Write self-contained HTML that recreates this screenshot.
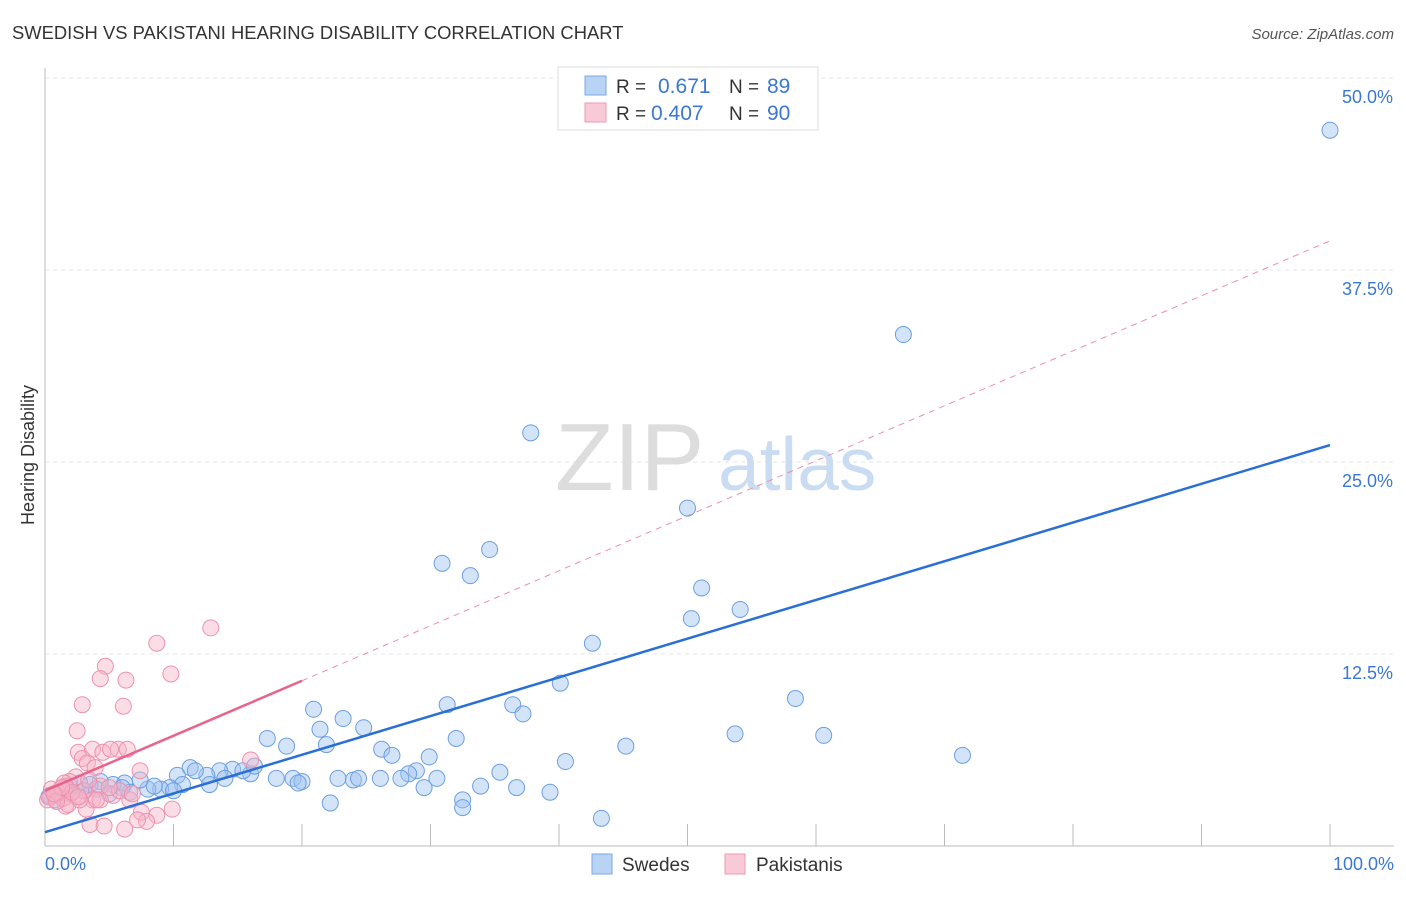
<!DOCTYPE html>
<html><head><meta charset="utf-8"><style>
body{margin:0;background:#fff;font-family:"Liberation Sans",sans-serif}
svg text{font-family:"Liberation Sans",sans-serif}
</style></head><body>
<svg id="chart" width="1406" height="892" viewBox="0 0 1406 892">
<text x="12" y="39" font-size="18.4" fill="#333">SWEDISH VS PAKISTANI HEARING DISABILITY CORRELATION CHART</text>
<text x="1394" y="39" font-size="15" fill="#555" font-style="italic" text-anchor="end">Source: ZipAtlas.com</text>
<text x="34" y="455" font-size="18" fill="#333" transform="rotate(-90 34 455)" text-anchor="middle">Hearing Disability</text>
<g id="grid"></g>
<g><text x="555" y="490" font-size="96" fill="#ddd" font-family="Liberation Serif,serif">ZIP</text><text x="718" y="490" font-size="75" fill="#c9dcf2">atlas</text></g>
<g id="lines"></g>
<g id="pts"></g>
<g>
<rect x="558" y="67" width="260" height="63" fill="#fff" stroke="#ddd"/>
<rect x="585" y="76" width="21" height="19" fill="#b8d3f3" stroke="#7aaae6"/>
<rect x="585" y="103" width="21" height="19" fill="#f8c9d6" stroke="#ee9ab3"/>
<text x="616" y="93" font-size="19" fill="#333">R = </text><text x="658" y="93" font-size="21" fill="#3a78d4">0.671</text>
<text x="729" y="93" font-size="19" fill="#333">N = </text><text x="767" y="93" font-size="21" fill="#3a78d4">89</text>
<text x="616" y="120" font-size="19" fill="#333">R = </text><text x="651" y="120" font-size="21" fill="#3a78d4">0.407</text>
<text x="729" y="120" font-size="19" fill="#333">N = </text><text x="767" y="120" font-size="21" fill="#3a78d4">90</text>
</g>
<g>
<rect x="592" y="854" width="20" height="20" fill="#b8d3f3" stroke="#7aaae6"/>
<text x="622" y="871" font-size="19" fill="#333">Swedes</text>
<rect x="725" y="854" width="20" height="20" fill="#f8c9d6" stroke="#ee9ab3"/>
<text x="756" y="871" font-size="19" fill="#333">Pakistanis</text>
</g>
</svg>
<script>
const yTicks=[12.5,25,37.5,50];
const yTickLabels=["12.5%","25.0%","37.5%","50.0%"];
const xTickLabels=["0.0%","100.0%"];
const swedesX=[100,66.8,37.8,50,34.6,30.9,33.1,51.1,54.1,50.3,42.6,40.1,58.4,31.3,20.9,36.4,23.2,37.2,24.8,21.4,17.3,32,53.7,60.6,18.8,21.9,45.2,71.4,26.2,27,29.9,40.5,28.9,28.3,35.4,27.7,22.8,24,24.4,26.1,30.5,19.3,20,19.7,18,16,14.6,15.4,13.6,16.3,12.6,11.3,11.7,10.3,12.8,10.7,9.7,9,8,7.4,6.2,5.3,4.3,3.5,2.7,1.9,1.2,0.4,0.8,22.2,32.5,32.5,29.5,33.9,36.7,39.3,43.3,6.6,1.6,3,5,8.5,10,14,2,4,6,0.3,1.2];
const swedesY=[46.6,33.3,26.9,22,19.3,18.4,17.6,16.8,15.4,14.8,13.2,10.6,9.6,9.2,8.9,9.2,8.3,8.6,7.7,7.6,7.0,7.0,7.3,7.2,6.5,6.6,6.5,5.9,6.3,5.9,5.8,5.5,4.9,4.7,4.8,4.4,4.4,4.3,4.4,4.4,4.4,4.4,4.2,4.1,4.4,4.7,5.0,4.9,4.9,5.2,4.6,5.1,4.9,4.6,4.0,4.0,3.8,3.7,3.7,4.3,4.1,4.0,4.2,4.0,4.1,3.9,3.6,3.3,3.0,2.8,3.0,2.5,3.8,3.9,3.8,3.5,1.8,3.5,3.8,3.6,3.4,3.9,3.6,4.4,3.4,3.7,3.8,3.2,3.5];
const pakX=[12.9,8.7,9.8,4.7,6.3,4.3,2.9,6.1,2.5,2.6,3.7,5.7,6.4,4.5,5.1,2.9,3.3,7.4,3.9,16,2.4,1.9,1.6,1.2,0.8,0.4,0.2,3.1,4.3,2.3,3.7,5.3,6.6,3.2,1.6,7.5,9.9,3.5,4.6,6.2,8.7,7.9,7.2,5.8,1.4,1.8,1,4.3,2.7,0.5,1.5,2.1,3.4,5,6.8,0.9,2.6,4,1.3,0.7];
const pakY=[14.2,13.2,11.2,11.7,10.8,10.9,9.2,9.1,7.5,6.1,6.3,6.3,6.3,6.1,6.3,5.7,5.4,4.9,5.1,5.6,4.5,4.2,3.9,3.6,3.3,3.2,3.0,3.6,3.9,3.3,3.0,3.3,3.0,2.4,2.6,2.2,2.4,1.4,1.3,1.1,2.0,1.6,1.7,3.6,3.1,2.7,3.5,3.0,3.0,3.7,4.1,3.5,4.3,3.8,3.4,2.9,3.2,3.0,3.8,3.4];
const blueTrend=[0.9,26.1];
const pinkTrend=[3.6,39.4];
const pinkSolidEnd=20;
const x0=45,x1=1330,yb=846,yt=78;
const X=v=>x0+(x1-x0)*v/100;
const Y=v=>yb-(yb-yt)*v/50;
const NS="http://www.w3.org/2000/svg";
function mk(t,a,p){const e=document.createElementNS(NS,t);for(const k in a)e.setAttribute(k,a[k]);p.appendChild(e);return e;}
const grid=document.getElementById('grid');
yTicks.forEach((t,i)=>{
 const l=mk('line',{x1:x0,x2:1394,y1:Y(t),y2:Y(t),stroke:'#e4e4e4','stroke-dasharray':'4,4'},grid);
 
 
 const tx=mk('text',{x:1393,y:Y(t)+25,'font-size':18,fill:'#3a78d4','text-anchor':'end'},grid);
 tx.textContent=yTickLabels[i];
 
 
});
const ax=mk('line',{x1:x0,x2:x0,y1:68,y2:yb,stroke:'#bbb'},grid);


const bx=mk('line',{x1:x0,x2:1394,y1:yb,y2:yb,stroke:'#bbb'},grid);


for(let i=1;i<=10;i++){const t=mk('line',{x1:X(i*10),x2:X(i*10),y1:yb,y2:yb-22,stroke:'#bbb'},grid);
 
 }
[[0,'start',x0],[100,'end',1394]].forEach((d,i)=>{const t=mk('text',{x:d[2],y:870,'font-size':18,fill:'#3a78d4','text-anchor':d[1]},grid);t.textContent=xTickLabels[i];
 
 });
const pts=document.getElementById('pts');
swedesX.forEach((v,i)=>{const c=mk('circle',{cx:X(v),cy:Y(swedesY[i]),r:8,fill:'rgba(160,196,240,0.45)',stroke:'#6c9fe0','stroke-width':1},pts);
 
 });
pakX.forEach((v,i)=>{const c=mk('circle',{cx:X(v),cy:Y(pakY[i]),r:8,fill:'rgba(246,180,200,0.45)',stroke:'#ec92ae','stroke-width':1},pts);
 
 });
const lines=document.getElementById('lines');
const pr=v=>pinkTrend[0]+(pinkTrend[1]-pinkTrend[0])*v/100;
const pd=mk('line',{x1:X(pinkSolidEnd),y1:Y(pr(pinkSolidEnd)),x2:X(100),y2:Y(pinkTrend[1]),stroke:'#ec8fab','stroke-dasharray':'6,5','stroke-width':1},lines);


const bl=mk('line',{x1:X(0),y1:Y(blueTrend[0]),x2:X(100),y2:Y(blueTrend[1]),stroke:'#2a6fd6','stroke-width':2.5},pts);


const pl=mk('line',{x1:X(0),y1:Y(pinkTrend[0]),x2:X(pinkSolidEnd),y2:Y(pr(pinkSolidEnd)),stroke:'#e8648c','stroke-width':2.5},pts);


</script>
</body></html>
